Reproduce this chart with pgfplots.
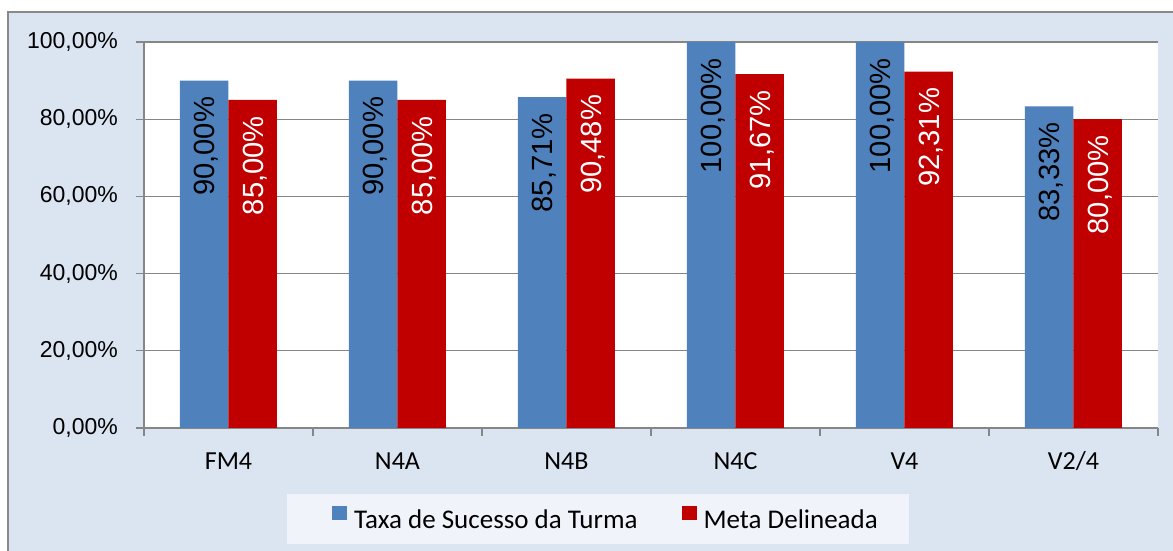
\documentclass[border=0pt]{standalone}
\usepackage{pgfplots}
\pgfplotsset{compat=1.18}
\usepackage{fontspec}
\setmainfont{Carlito}
\newfontfamily\arialfont{Liberation Sans}
\definecolor{bgblue}{RGB}{219,229,241}
\definecolor{legfill}{RGB}{240,244,250}
\definecolor{framegray}{RGB}{137,137,137}
\definecolor{gridgray}{RGB}{134,134,134}
\definecolor{barblue}{RGB}{79,129,189}
\definecolor{barred}{RGB}{192,0,0}
\pgfplotsset{
  blueimg/.style={legend image code/.code={\path[##1] (0pt,0pt) rectangle (15pt,14pt); \path (-14pt,0pt) (22pt,0pt);}},
  redimg/.style={legend image code/.code={\path[##1] (0pt,0pt) rectangle (15pt,14pt); \path (22pt,0pt);}},
}
\newcommand{\vlab}{{\arialfont\fontsize{29.2}{31}\selectfont\pgfmathprintnumber[fixed,fixed zerofill,precision=2,use comma,assume math mode=true]{\pgfplotspointmeta}\%}}
\begin{document}
\begin{tikzpicture}
\useasboundingbox (0,0) rectangle (1173pt,551pt);
\fill[white] (0,0) rectangle (1173pt,551pt);
\fill[bgblue] (8pt,0) rectangle (1173pt,539pt);
\draw[framegray, line width=1.2pt] (8pt,0) -- (8pt,539pt) -- (1173pt,539pt);
\begin{axis}[
  at={(144pt,123pt)}, anchor=south west,
  scale only axis, width=1014pt, height=386pt,
  xmin=-0.5, xmax=5.5, ymin=0, ymax=100,
  enlargelimits=false,
  axis background/.style={fill=white},
  axis x line*=bottom, axis y line*=left,
  axis line style={gridgray, line width=1.3pt, -},
  ybar=0pt, bar width=48.5pt,
  xtick={-0.5,0.5,1.5,2.5,3.5,4.5,5.5},
  x tick label as interval,
  xticklabels={FM4,N4A,N4B,N4C,V4,V2/4},
  ytick={0,20,40,60,80,100},
  yticklabels={{0,00\%},{20,00\%},{40,00\%},{60,00\%},{80,00\%},{100,00\%}},
  tick align=outside, major tick length=8pt,
  tick style={gridgray, line width=1.3pt},
  ymajorgrids, grid style={gridgray, line width=1.3pt},
  yticklabel style={font=\arialfont\fontsize{23}{26}\selectfont, anchor=east, inner sep=0pt, xshift=-18pt},
  xticklabel style={font=\fontsize{26}{30}\selectfont, anchor=base, inner sep=0pt, yshift=-34pt},
  nodes near coords={\vlab},
  every node near coord/.append style={rotate=90, anchor=east, inner sep=0pt, text height=21pt, text depth=0pt, xshift=-16pt},
  legend columns=2,
  legend cell align=left,
  legend style={at={(0.141,-0.171)}, anchor=north west, draw=none, fill=legfill,
    inner xsep=31pt, inner ysep=12pt, column sep=0pt, row sep=0pt,
    font=\fontsize{27}{30}\selectfont,
    nodes={inner sep=0pt, text height=20pt, text depth=4pt}},
]
\addplot[fill=barblue, draw=none, blueimg]
  coordinates {(0,90) (1,90) (2,85.71) (3,100) (4,100) (5,83.33)};
\addlegendentry{Taxa de Sucesso da Turma\hspace*{44pt}}
\addplot[fill=barred, draw=none, redimg,
  every node near coord/.append style={text=white}]
  coordinates {(0,85) (1,85) (2,90.48) (3,91.67) (4,92.31) (5,80)};
\addlegendentry{Meta Delineada}
\end{axis}
\end{tikzpicture}
\end{document}
